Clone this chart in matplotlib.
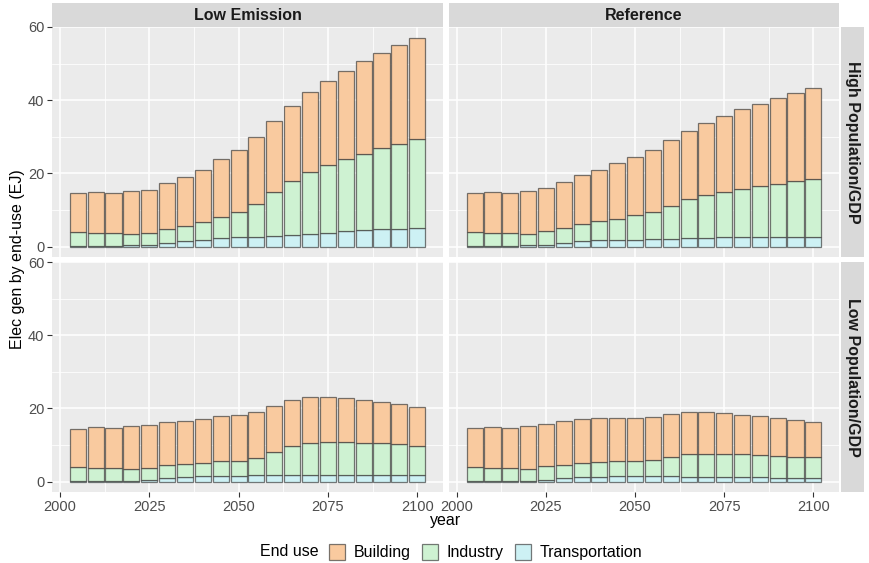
import matplotlib.pyplot as plt
from matplotlib.patches import Patch

plt.rcParams['font.family'] = ['Liberation Sans', 'DejaVu Sans']

years = list(range(2005, 2101, 5))
scenarios = ["Low Emission", "Reference"]
pop_cases = ["High Population/GDP", "Low Population/GDP"]
end_uses = ["Building", "Industry", "Transportation"]
colors = {"Building": "#F9CA9F", "Industry": "#CEF2D2", "Transportation": "#CDF1F4"}

# Low Emission / High Population
le_high_trans = [0.05, 0.05, 0.05, 0.3, 0.5, 1.1, 1.5, 1.9, 2.3, 2.5, 2.7, 3.0, 3.2, 3.5, 3.8, 4.2, 4.5, 4.7, 4.9, 5.1]
le_high_ind = [3.95, 3.75, 3.55, 3.2, 3.2, 3.6, 4.2, 4.8, 5.9, 7.0, 8.9, 11.8, 14.7, 16.8, 18.4, 19.6, 20.9, 22.2, 23.2, 24.2]
le_high_bld = [10.7, 11.2, 11.1, 11.7, 11.8, 12.6, 13.3, 14.3, 15.8, 17.0, 18.3, 19.4, 20.6, 22.0, 23.1, 24.3, 25.3, 26.1, 27.0, 27.8]

# Reference / High Population
ref_high_trans = [0.05, 0.05, 0.05, 0.3, 0.5, 1.0, 1.5, 1.7, 1.8, 1.9, 2.1, 2.2, 2.3, 2.4, 2.5, 2.5, 2.5, 2.6, 2.7, 2.7]
ref_high_ind = [3.95, 3.75, 3.55, 3.2, 3.7, 4.2, 4.6, 5.2, 5.8, 6.6, 7.4, 9.0, 10.6, 11.6, 12.5, 13.3, 14.0, 14.6, 15.1, 15.8]
ref_high_bld = [10.7, 11.2, 11.1, 11.7, 11.8, 12.4, 13.4, 14.1, 15.1, 16.0, 17.0, 18.0, 18.8, 19.8, 20.7, 21.7, 22.4, 23.3, 24.1, 24.7]

# Low Emission / Low Population
le_low_trans = [0.05, 0.05, 0.05, 0.2, 0.4, 0.9, 1.2, 1.5, 1.5, 1.6, 1.7, 1.7, 1.7, 1.7, 1.8, 1.8, 1.8, 1.7, 1.7, 1.7]
le_low_ind = [3.95, 3.75, 3.55, 3.3, 3.2, 3.5, 3.5, 3.5, 4.0, 4.1, 4.8, 6.4, 8.1, 8.9, 9.1, 8.9, 8.8, 8.8, 8.5, 8.1]
le_low_bld = [10.5, 11.0, 11.0, 11.6, 11.8, 11.8, 11.8, 12.2, 12.3, 12.6, 12.6, 12.5, 12.4, 12.4, 12.1, 12.0, 11.7, 11.2, 10.9, 10.6]

# Reference / Low Population
ref_low_trans = [0.05, 0.05, 0.05, 0.2, 0.5, 0.9, 1.2, 1.3, 1.4, 1.4, 1.4, 1.4, 1.3, 1.3, 1.3, 1.2, 1.2, 1.1, 1.1, 1.1]
ref_low_ind = [3.95, 3.75, 3.55, 3.3, 3.7, 3.7, 3.9, 4.1, 4.1, 4.1, 4.4, 5.3, 6.2, 6.3, 6.2, 6.2, 6.0, 5.9, 5.7, 5.5]
ref_low_bld = [10.6, 11.1, 11.0, 11.7, 11.6, 11.9, 11.9, 12.0, 11.9, 12.0, 11.8, 11.7, 11.5, 11.5, 11.2, 10.9, 10.6, 10.3, 9.9, 9.6]

data = {
    (0, 0): (le_high_bld, le_high_ind, le_high_trans),
    (0, 1): (ref_high_bld, ref_high_ind, ref_high_trans),
    (1, 0): (le_low_bld, le_low_ind, le_low_trans),
    (1, 1): (ref_low_bld, ref_low_ind, ref_low_trans),
}

W, H = 870, 563
fig = plt.figure(figsize=(W / 100, H / 100), dpi=100)

def fx(px):
    return px / W

def fy(py):
    return 1 - py / H

col_x = [(52, 443), (449, 839)]
row_y = [(27, 257), (262, 492)]
edge = (0.2, 0.2, 0.2, 0.65)

for (r, c), (bld, ind, trans) in data.items():
    x0, x1 = col_x[c]
    y0, y1 = row_y[r]
    ax = fig.add_axes([fx(x0), fy(y1), fx(x1 - x0), (y1 - y0) / H])
    ax.set_facecolor("#EBEBEB")
    for s in ax.spines.values():
        s.set_visible(False)
    ax.set_xlim(1997.8, 2107.2)
    ax.set_ylim(-2.85, 60.0)
    ax.set_xticks([2000, 2025, 2050, 2075, 2100])
    ax.set_xticks([2012.5, 2037.5, 2062.5, 2087.5], minor=True)
    ax.set_yticks([0, 20, 40, 60])
    ax.set_yticks([10, 30, 50], minor=True)
    ax.grid(which="major", color="white", lw=1.1)
    ax.grid(which="minor", color="white", lw=0.55)
    ax.set_axisbelow(True)

    bottom = [0] * len(years)
    for vals, name in [(trans, "Transportation"), (ind, "Industry"), (bld, "Building")]:
        ax.bar(years, vals, width=4.5, bottom=bottom, color=colors[name],
               edgecolor=edge, linewidth=0.9)
        bottom = [b + v for b, v in zip(bottom, vals)]

    ax.tick_params(which="minor", length=0)
    ax.tick_params(which="major", color="#333333", length=3.5, width=0.8,
                   labelsize=10.5, labelcolor="#4D4D4D", pad=2)
    if c != 0:
        ax.tick_params(axis="y", length=0, labelleft=False)
    if r != 1:
        ax.tick_params(axis="x", length=0, labelbottom=False)

    # strips
    if r == 0:
        sx = fig.add_axes([fx(x0), fy(27), fx(x1 - x0), 24 / H])
        sx.set_facecolor("#D9D9D9")
        sx.set_xticks([]); sx.set_yticks([])
        for s in sx.spines.values():
            s.set_visible(False)
        sx.text(0.5, 0.5, scenarios[c], ha="center", va="center", fontsize=11.5,
                fontweight="bold", color="#1A1A1A", transform=sx.transAxes)
    if c == 1:
        sy = fig.add_axes([fx(841), fy(y1), fx(23), (y1 - y0) / H])
        sy.set_facecolor("#D9D9D9")
        sy.set_xticks([]); sy.set_yticks([])
        for s in sy.spines.values():
            s.set_visible(False)
        sy.text(0.5, 0.5, pop_cases[r], ha="center", va="center", fontsize=11.5,
                fontweight="bold", color="#1A1A1A", rotation=-90, transform=sy.transAxes)

fig.text(fx(18), fy(259), "Elec gen by end-use (EJ)", rotation=90, ha="center",
         va="center", fontsize=11.5, color="black")
fig.text(fx(446), fy(520), "year", ha="center", va="center", fontsize=11.5)

fig.text(fx(260), fy(552), "End use", ha="left", va="center", fontsize=11.5)
handles = [Patch(facecolor=colors[n], edgecolor=edge, linewidth=0.9, label=n) for n in end_uses]
fig.legend(handles=handles, loc="center left", bbox_to_anchor=(fx(323), fy(552)),
           ncol=3, frameon=False, fontsize=11.5, handlelength=1.0, handleheight=1.2,
           handletextpad=0.5, columnspacing=0.75, borderaxespad=0)

fig.savefig("out.png", dpi=100)
